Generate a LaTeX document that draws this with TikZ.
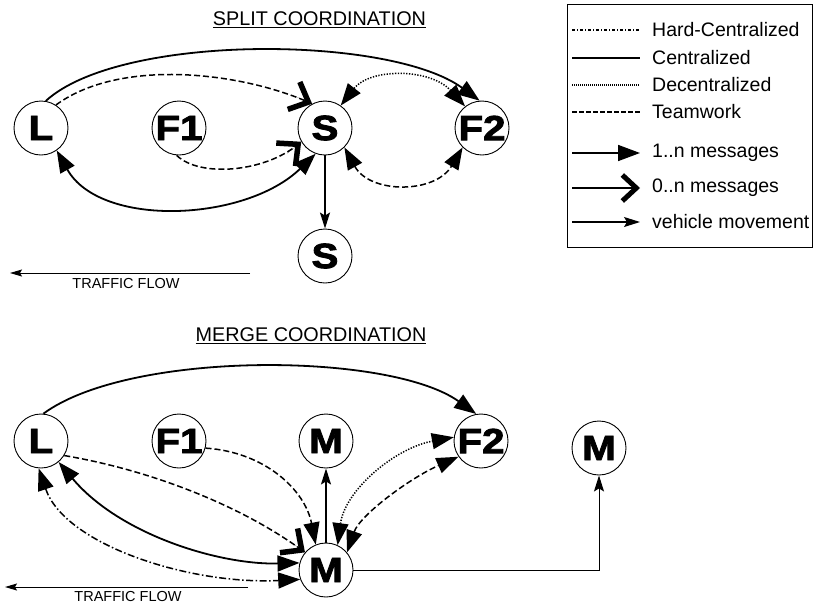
\documentclass[tikz,border=0pt]{standalone}
\usepackage{fontspec}
\setmainfont{Liberation Sans}
\newfontfamily\heavyfont[FakeStretch=1.15,FakeBold=2.5]{Liberation Sans Bold}
\usetikzlibrary{arrows.meta,calc}

\begin{document}
\begin{tikzpicture}[x=1pt,y=-1pt,
  vehicle/.style={circle,draw,line width=0.9pt,minimum size=54pt,inner sep=0pt,
    font=\heavyfont\fontsize{35}{35}\selectfont},
  heading/.style={font=\fontsize{19.8}{19.8}\selectfont},
  legtext/.style={anchor=west,font=\fontsize{19.5}{19.5}\selectfont,inner sep=0pt},
  flowtext/.style={font=\fontsize{14.5}{14.5}\selectfont},
  cen/.style={line width=1.8pt},
  dec/.style={line width=1.5pt,dash pattern=on 1.3pt off 1.5pt},
  team/.style={line width=1.5pt,dash pattern=on 6pt off 3pt},
  hard/.style={line width=1.5pt,dash pattern=on 7pt off 2.5pt on 1.5pt off 2.5pt},
  tipone/.style={-{Triangle[length=22pt,width=16pt]}},
  tipboth/.style={{Triangle[length=22pt,width=16pt]}-{Triangle[length=22pt,width=16pt]}},
  % heavy open chevron, drawn on its own invisible stub so it stays solid
  chevron/.style={line width=0.01pt,-{Straight Barb[length=16pt,width=30pt,line width=5.5pt]}},
  tipmove/.style={-{Stealth[length=16pt,width=10pt,inset=3pt]}},
  movement/.style={line width=1.5pt,tipmove},
  flow/.style={line width=1pt,-{Stealth[length=12pt,width=7pt,inset=2pt]}}
]
\useasboundingbox (0,0) rectangle (813,603);

% ---------------- split coordination ----------------
\node[heading] (splittitle) at (319.5,20) {\underline{SPLIT COORDINATION}};
\node[vehicle] (sL)  at (41,128)  {L};
\node[vehicle] (sF1) at (179,128) {F1};
\node[vehicle] (sS)  at (325,128) {S};
\node[vehicle] (sF2) at (482,128) {F2};
\node[vehicle] (sS2) at (325,256) {S};

\draw[cen,tipone] (sL.80) .. controls (120,33) and (390,35) .. (sF2.95);
\draw[team,shorten >=4pt] (sL.57) .. controls (120,58) and (240,72) .. (sS.118);
\draw[chevron] ($(sS.118)!18pt!(240,72)$) -- (sS.118);
\draw[team,shorten >=4pt] (sF1.-95) .. controls (200,178) and (265,172) .. (sS.210);
\draw[chevron] ($(sS.210)!18pt!(265,172)$) -- (sS.210);
\draw[cen,tipboth] (sL.-55) .. controls (100,228) and (245,222) .. (sS.-110);
\draw[dec,tipboth] (sS.55) .. controls (370,68) and (430,68) .. (sF2.128);
\draw[team,tipboth] (sS.-45) .. controls (370,194) and (435,194) .. (sF2.-135);
\draw[movement] (sS.south) -- (sS2.north);

\coordinate (sflowA) at (250,273);
\coordinate (sflowB) at (10,273);
\draw[flow] (sflowA) -- (sflowB);
\node[flowtext] (sflowtext) at (126,284) {TRAFFIC FLOW};

% ---------------- legend ----------------
\node[draw,line width=1.2pt,minimum width=245pt,minimum height=243pt,inner sep=0pt,
  anchor=north west] (legend) at (567,4) {};
\foreach \n/\y in {a/30,b/58,c/85,d/112,e/153,f/188,g/222}{
  \coordinate (l\n1) at (572,\y);
  \coordinate (l\n2) at (640,\y);
}
\draw[line width=1.1pt,dash pattern=on 3pt off 2pt on 1pt off 2pt] (la1) -- (la2);
\draw[line width=1.1pt] (lb1) -- (lb2);
\draw[line width=1.1pt,dash pattern=on 1pt off 1pt] (lc1) -- (lc2);
\draw[line width=1.1pt,dash pattern=on 4.5pt off 2.5pt] (ld1) -- (ld2);
\draw[line width=1.7pt,-{Triangle[length=22pt,width=16pt]}] (le1) -- (le2);
\draw[line width=1.7pt,-{Straight Barb[length=14pt,width=26pt,line width=5pt]}] (lf1) -- (lf2);
\draw[line width=1.2pt,tipmove] (lg1) -- (lg2);
\node[legtext] (lta) at (652,30)  {Hard-Centralized};
\node[legtext] (ltb) at (652,58)  {Centralized};
\node[legtext] (ltc) at (652,85)  {Decentralized};
\node[legtext] (ltd) at (652,112) {Teamwork};
\node[legtext] (lte) at (652,153) {1..n messages};
\node[legtext] (ltf) at (652,188) {0..n messages};
\node[legtext] (ltg) at (652,222) {vehicle movement};

% ---------------- merge coordination ----------------
\node[heading] (mergetitle) at (311,336) {\underline{MERGE COORDINATION}};
\node[vehicle] (mL)  at (41,441)  {L};
\node[vehicle] (mF1) at (179,441) {F1};
\node[vehicle] (mM1) at (326,441) {M};
\node[vehicle] (mF2) at (481,441) {F2};
\node[vehicle] (mM)  at (326,570) {M};
\node[vehicle] (mM3) at (599,448) {M};

\draw[cen,tipone] (mL.85) .. controls (130,350) and (390,352) .. (mF2.100);
\draw[team,shorten >=4pt] (mL.-32) .. controls (150,470) and (240,505) .. (mM.140);
\draw[chevron] ($(mM.140)!18pt!(240,505)$) -- (mM.140);
\draw[team,tipone] (mF1.-15) .. controls (265,452) and (305,490) .. (mM.112);
\draw[cen,tipboth] (mL.-50) .. controls (120,535) and (220,565) .. (mM.165);
\draw[hard,tipboth] (mL.-95) .. controls (65,545) and (190,585) .. (mM.200);
\draw[movement] (mM.north) -- (mM1.south);
\draw[dec,tipboth] (mM.65) .. controls (345,490) and (395,448) .. (mF2.172);
\draw[team,tipboth] (mM.40) .. controls (360,515) and (410,478) .. (mF2.-145);
\coordinate (mcorner) at (599,570);
\draw[line width=1pt,tipmove] (mM.east) -- (mcorner) -- (mM3.south);

\coordinate (mflowA) at (248,587);
\coordinate (mflowB) at (5,587);
\draw[flow] (mflowA) -- (mflowB);
\node[flowtext] (mflowtext) at (128,596) {TRAFFIC FLOW};
\end{tikzpicture}
\end{document}
